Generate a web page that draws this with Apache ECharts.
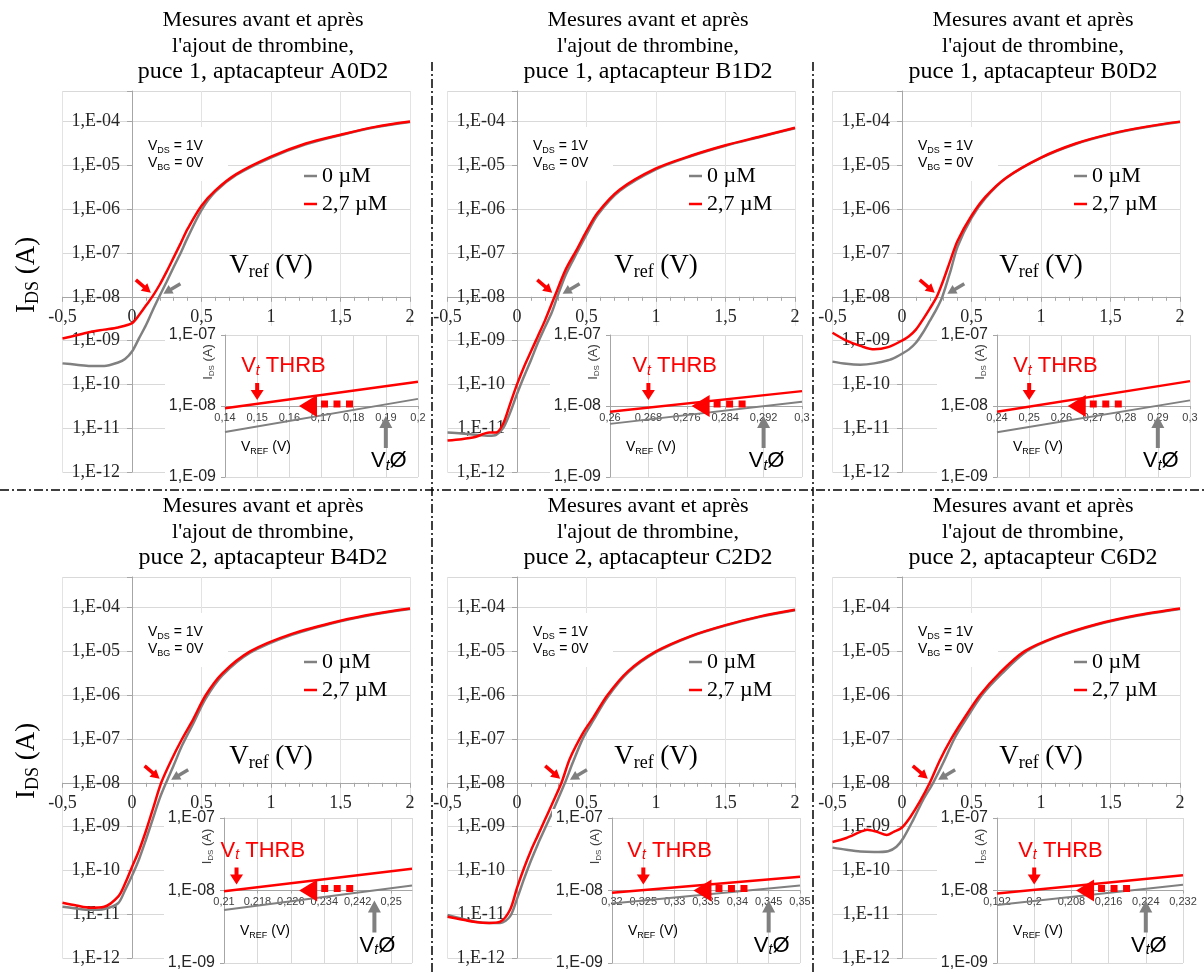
<!DOCTYPE html>
<html lang="fr">
<head>
<meta charset="utf-8">
<title>I_DS(V_ref) avant / après thrombine</title>
<script src="https://cdn.jsdelivr.net/npm/echarts@6.0.0/dist/echarts.min.js"></script>
<style>
html,body{margin:0;padding:0;background:#ffffff;}
#chart{width:1204px;height:974px;}
</style>
</head>
<body>
<div id="chart"></div>
<script>
// ================= DATA =================
const titleLine1 = "Mesures avant et après";
const titleLine2 = "l'ajout de thrombine,";
const panelLabels = ["puce 1, aptacapteur A0D2", "puce 1, aptacapteur B1D2", "puce 1, aptacapteur B0D2",
                     "puce 2, aptacapteur B4D2", "puce 2, aptacapteur C2D2", "puce 2, aptacapteur C6D2"];
const seriesNames = ["0 µM", "2,7 µM"];

// Panel 1 : A0D2  (V_ref in V, I_DS in A)
const a0d2_v0  = [-0.5,-0.4,-0.3,-0.2,-0.1,-0.05,0,0.05,0.1,0.15,0.2,0.25,0.3,0.35,0.4,0.5,0.6,0.75,1.0,1.25,1.5,1.75,2.0];
const a0d2_i0  = [3.02e-10,2.82e-10,2.63e-10,2.63e-10,3.16e-10,3.80e-10,5.62e-10,1.12e-9,2.24e-9,5.01e-9,1.07e-8,2.24e-8,4.79e-8,1.0e-7,2.24e-7,9.55e-7,2.51e-6,6.03e-6,1.51e-5,3.02e-5,4.90e-5,7.41e-5,9.77e-5];
const a0d2_v27 = [-0.5,-0.4,-0.3,-0.2,-0.1,0,0.05,0.1,0.15,0.2,0.25,0.3,0.35,0.4,0.5,0.6,0.75,1.0,1.25,1.5,1.75,2.0];
const a0d2_i27 = [1.12e-9,1.32e-9,1.58e-9,1.78e-9,2.0e-9,2.51e-9,3.80e-9,6.31e-9,1.05e-8,1.91e-8,3.80e-8,7.94e-8,1.66e-7,3.55e-7,1.20e-6,2.69e-6,6.31e-6,1.58e-5,3.16e-5,5.01e-5,7.59e-5,1.0e-4];

// Panel 2 : B1D2
const b1d2_v0  = [-0.5,-0.4,-0.3,-0.2,-0.15,-0.1,-0.05,0,0.05,0.1,0.15,0.2,0.25,0.29,0.35,0.43,0.5,0.58,0.74,1.0,1.25,1.5,1.75,2.0];
const b1d2_i0  = [7.94e-12,7.59e-12,7.08e-12,6.76e-12,7.08e-12,1.0e-11,2.24e-11,6.03e-11,1.51e-10,3.55e-10,8.91e-10,2.0e-9,4.37e-9,1.0e-8,3.16e-8,1.0e-7,2.63e-7,7.41e-7,2.63e-6,8.13e-6,1.62e-5,2.82e-5,4.47e-5,7.08e-5];
const b1d2_v27 = [-0.5,-0.4,-0.3,-0.2,-0.15,-0.1,-0.05,0,0.05,0.1,0.15,0.2,0.27,0.35,0.43,0.5,0.58,0.74,1.0,1.25,1.5,1.75,2.0];
const b1d2_i27 = [5.25e-12,5.62e-12,6.31e-12,7.94e-12,7.94e-12,1.26e-11,3.55e-11,1.0e-10,2.51e-10,5.62e-10,1.26e-9,2.82e-9,1.0e-8,4.17e-8,1.20e-7,3.16e-7,8.32e-7,2.82e-6,8.51e-6,1.66e-5,2.88e-5,4.57e-5,7.24e-5];

// Panel 3 : B0D2
const b0d2_v0  = [-0.5,-0.4,-0.3,-0.2,-0.1,-0.04,0,0.05,0.1,0.15,0.2,0.25,0.29,0.35,0.4,0.5,0.6,0.75,1.0,1.25,1.5,1.75,2.0];
const b0d2_i0  = [3.31e-10,2.95e-10,2.82e-10,3.02e-10,3.55e-10,4.27e-10,5.01e-10,6.31e-10,8.91e-10,1.51e-9,2.82e-9,5.37e-9,1.0e-8,3.98e-8,1.41e-7,6.31e-7,1.78e-6,5.13e-6,1.48e-5,3.09e-5,5.13e-5,7.41e-5,9.77e-5];
const b0d2_v27 = [-0.5,-0.4,-0.3,-0.2,-0.1,0,0.05,0.1,0.15,0.2,0.25,0.3,0.35,0.4,0.5,0.6,0.75,1.0,1.25,1.5,1.75,2.0];
const b0d2_i27 = [1.51e-9,1.0e-9,7.59e-10,6.31e-10,7.08e-10,1.0e-9,1.26e-9,1.78e-9,3.02e-9,5.37e-9,1.0e-8,2.51e-8,7.08e-8,1.91e-7,7.08e-7,1.91e-6,5.25e-6,1.51e-5,3.16e-5,5.25e-5,7.59e-5,1.0e-4];

// Panel 4 : B4D2
const b4d2_v0  = [-0.5,-0.4,-0.3,-0.2,-0.1,-0.05,0,0.05,0.1,0.15,0.2,0.245,0.3,0.36,0.44,0.53,0.65,0.85,1.15,1.5,1.75,2.0];
const b4d2_i0  = [1.48e-11,1.35e-11,1.26e-11,1.32e-11,1.78e-11,3.55e-11,7.59e-11,1.78e-10,5.01e-10,1.51e-9,4.47e-9,1.0e-8,2.51e-8,7.08e-8,2.24e-7,8.32e-7,2.82e-6,9.33e-6,2.40e-5,4.90e-5,7.08e-5,9.33e-5];
const b4d2_v27 = [-0.5,-0.4,-0.3,-0.2,-0.1,-0.05,0,0.05,0.1,0.15,0.21,0.28,0.36,0.44,0.53,0.65,0.85,1.15,1.5,1.75,2.0];
const b4d2_i27 = [1.82e-11,1.58e-11,1.41e-11,1.48e-11,2.51e-11,5.01e-11,1.20e-10,2.82e-10,7.94e-10,2.51e-9,1.0e-8,3.16e-8,1.0e-7,2.82e-7,1.0e-6,3.16e-6,1.0e-5,2.51e-5,5.01e-5,7.24e-5,9.55e-5];

// Panel 5 : C2D2
const c2d2_v0  = [-0.5,-0.4,-0.3,-0.2,-0.12,-0.05,0,0.05,0.1,0.15,0.2,0.25,0.345,0.4,0.475,0.55,0.65,0.8,1.0,1.25,1.5,1.75,2.0];
const c2d2_i0  = [9.55e-12,7.94e-12,6.76e-12,6.31e-12,6.31e-12,8.91e-12,2.24e-11,6.31e-11,1.66e-10,3.98e-10,8.91e-10,2.0e-9,1.0e-8,2.82e-8,1.05e-7,2.69e-7,8.91e-7,3.31e-6,9.55e-6,2.19e-5,3.89e-5,6.17e-5,8.71e-5];
const c2d2_v27 = [-0.5,-0.4,-0.3,-0.2,-0.12,-0.05,0,0.05,0.1,0.15,0.2,0.25,0.32,0.38,0.475,0.55,0.65,0.8,1.0,1.25,1.5,1.75,2.0];
const c2d2_i27 = [8.71e-12,7.59e-12,6.61e-12,6.31e-12,6.76e-12,1.26e-11,3.98e-11,1.12e-10,2.82e-10,6.31e-10,1.41e-9,3.16e-9,1.0e-8,3.55e-8,1.38e-7,3.16e-7,1.0e-6,3.55e-6,1.0e-5,2.24e-5,3.98e-5,6.31e-5,8.91e-5];

// Panel 6 : C6D2
const c6d2_v0  = [-0.5,-0.4,-0.3,-0.2,-0.1,-0.04,0.01,0.08,0.15,0.224,0.3,0.38,0.46,0.58,0.72,0.9,1.1,1.4,1.7,2.0];
const c6d2_i0  = [3.31e-10,2.95e-10,2.69e-10,2.63e-10,2.75e-10,3.47e-10,5.50e-10,1.41e-9,3.98e-9,1.0e-8,3.02e-8,1.07e-7,2.82e-7,1.05e-6,3.16e-6,1.02e-5,2.04e-5,4.07e-5,6.61e-5,9.33e-5];
const c6d2_v27 = [-0.5,-0.4,-0.3,-0.25,-0.18,-0.11,-0.06,0,0.06,0.13,0.2,0.27,0.35,0.44,0.56,0.7,0.88,1.1,1.4,1.7,2.0];
const c6d2_i27 = [4.47e-10,5.50e-10,7.59e-10,8.51e-10,7.59e-10,6.46e-10,7.59e-10,9.55e-10,1.66e-9,3.80e-9,1.0e-8,3.16e-8,9.55e-8,2.75e-7,1.0e-6,3.16e-6,1.0e-5,2.09e-5,4.17e-5,6.76e-5,9.55e-5];

// Insets (zoom around I_DS = 1e-8 A)
const insetV    = [[0.14,0.2],[0.26,0.3],[0.24,0.3],[0.21,0.255],[0.32,0.35],[0.192,0.232]];
const insetI0   = [[4.3e-9,1.26e-8],[5.6e-9,1.15e-8],[4.27e-9,1.2e-8],[5.4e-9,1.17e-8],[6.6e-9,1.17e-8],[6.3e-9,1.2e-8]];
const insetI27  = [[9.3e-9,2.2e-8],[8.3e-9,1.62e-8],[8.3e-9,2.24e-8],[9.8e-9,2.0e-8],[9.3e-9,1.55e-8],[9.1e-9,1.62e-8]];
const insetTickMin  = [0.14, 0.26, 0.24, 0.21, 0.32, 0.192];
const insetTickMax  = [0.2, 0.3, 0.3, 0.255, 0.35, 0.232];
const insetTickStep = [0.01, 0.008, 0.01, 0.008, 0.005, 0.008];

// Threshold voltages (V) read on the insets
const vtThrb   = [0.15, 0.268, 0.25, 0.213, 0.325, 0.2];     // after thrombin (2,7 µM)
const vtZero   = [0.19, 0.292, 0.29, 0.246, 0.345, 0.224];   // before (0 µM)
const shiftTip = [0.163, 0.277, 0.262, 0.228, 0.333, 0.209]; // tip of the shift arrow

const mainV0  = [a0d2_v0, b1d2_v0, b0d2_v0, b4d2_v0, c2d2_v0, c6d2_v0];
const mainI0  = [a0d2_i0, b1d2_i0, b0d2_i0, b4d2_i0, c2d2_i0, c6d2_i0];
const mainV27 = [a0d2_v27, b1d2_v27, b0d2_v27, b4d2_v27, c2d2_v27, c6d2_v27];
const mainI27 = [a0d2_i27, b1d2_i27, b0d2_i27, b4d2_i27, c2d2_i27, c6d2_i27];

// ================= LAYOUT / STYLE =================
const SERIF = 'Liberation Serif';
const SANS = 'Liberation Sans';
const RED = '#ff0000', GRAY = '#808080';
const colZero = [132, 517, 902];
const rowOff = [0, 486];
const MAIN_MIN = 1e-12, MAIN_MAX = 5e-4;
const MAIN_TOP = 91, MAIN_H = 381, MAIN_W = 347.5, MAIN_SHIFT = 69.5;
const insetXpx = [[225,418],[610,802],[997,1190],[224,412],[612,800],[997,1183]];
const insetYpx = [[335,477],[818,963]];
const vrefBase = [-21, -16];

const zip = (a, b) => a.map((v, i) => [v, b[i]]);
const comma = v => String(+(+v).toFixed(4)).replace('.', ',');
const expLabel = v => {
  const l = Math.log10(v), e = Math.round(l);
  if (Math.abs(l - e) > 1e-6) return '';
  const n = -e;
  return '1,E-' + (n < 10 ? '0' + n : n);
};
function minorMarks(minExp, maxVal) {
  const out = [];
  for (let e = minExp; e < 0; e++) {
    for (let m = 2; m <= 9; m++) {
      const v = m * Math.pow(10, e);
      if (v >= maxVal * 0.999) return out;
      out.push({ yAxis: v });
    }
  }
  return out;
}

const chart = echarts.init(document.getElementById('chart'), null, { renderer: 'canvas' });

const grids = [], xAxes = [], yAxes = [], series = [], legends = [], titles = [];
const decades = Math.log10(MAIN_MAX) - Math.log10(MAIN_MIN);
const y8off = MAIN_H * (Math.log10(1e-8) - Math.log10(MAIN_MIN)) / decades;

for (let k = 0; k < 6; k++) {
  const c = k % 3, r = Math.floor(k / 3), zx = colZero[c], ro = rowOff[r];
  // ---- main plot
  grids.push({ left: zx - MAIN_SHIFT, top: MAIN_TOP + ro, width: MAIN_W, height: MAIN_H, containLabel: false, outerBoundsMode: 'none', show: false });
  xAxes.push({
    type: 'value', gridIndex: 2 * k, min: -0.5, max: 2, interval: 0.5, position: 'bottom', offset: -y8off, z: 0,
    axisLine: { show: true, onZero: false, lineStyle: { color: '#a6a6a6', width: 1 } },
    axisTick: { show: true, length: 5, lineStyle: { color: '#a6a6a6' } },
    minorTick: { show: true, splitNumber: 5, length: 4, lineStyle: { color: '#a6a6a6' } },
    axisLabel: { show: true, margin: 11, fontFamily: SERIF, fontSize: 18, color: '#262626', formatter: comma },
    splitLine: { show: true, lineStyle: { color: '#e3e3e3', width: 1 } },
    minorSplitLine: { show: false }
  });
  yAxes.push({
    type: 'log', logBase: 10, gridIndex: 2 * k, min: MAIN_MIN, max: MAIN_MAX, splitNumber: 10, position: 'left', offset: -MAIN_SHIFT, z: 0,
    axisLine: { show: true, onZero: false, lineStyle: { color: '#a6a6a6', width: 1 } },
    axisTick: { show: true, length: 5, lineStyle: { color: '#a6a6a6' } },
    axisLabel: { show: true, margin: 12, fontFamily: SERIF, fontSize: 18, color: '#262626', formatter: expLabel },
    splitLine: { show: true, lineStyle: { color: '#d9d9d9', width: 1 } }
  });
  // ---- inset
  const [iL, iR] = insetXpx[k], [iT, iB] = insetYpx[r];
  grids.push({ left: iL, top: iT, width: iR - iL, height: iB - iT, containLabel: false, outerBoundsMode: 'none', show: false });
  xAxes.push({
    type: 'value', gridIndex: 2 * k + 1, min: insetTickMin[k], max: insetTickMax[k], interval: insetTickStep[k],
    position: 'bottom', offset: -(iB - iT) / 2, z: 6,
    axisLine: { show: true, onZero: false, lineStyle: { color: '#a6a6a6', width: 1 } },
    axisTick: { show: true, length: 3, lineStyle: { color: '#a6a6a6' } },
    axisLabel: { show: true, margin: 6, fontFamily: SANS, fontSize: 11, color: '#404040', formatter: comma,
                 showMinLabel: true, showMaxLabel: k !== 3 },
    splitLine: { show: true, lineStyle: { color: '#d9d9d9', width: 1 } }
  });
  yAxes.push({
    type: 'log', logBase: 10, gridIndex: 2 * k + 1, min: 1e-9, max: 1e-7, splitNumber: 10, position: 'left', z: 6,
    axisLine: { show: true, onZero: false, lineStyle: { color: '#a6a6a6', width: 1 } },
    axisTick: { show: true, length: 4, lineStyle: { color: '#a6a6a6' } },
    axisLabel: { show: true, margin: 9, fontFamily: SANS, fontSize: 16, color: '#262626', formatter: expLabel },
    splitLine: { show: true, lineStyle: { color: '#d9d9d9', width: 1 } }
  });

  const mlCommon = { silent: true, symbol: ['none', 'none'], label: { show: false }, emphasis: { disabled: true }, animation: false };
  series.push({
    type: 'line', name: seriesNames[0], xAxisIndex: 2 * k, yAxisIndex: 2 * k, data: zip(mainV0[k], mainI0[k]),
    smooth: 0.3, symbol: 'none', color: GRAY, itemStyle: { color: GRAY },
    lineStyle: { color: GRAY, width: 2.5 }, z: 2, silent: true,
    markLine: Object.assign({ z: 1, lineStyle: { color: '#e9e9e9', width: 1, type: 'solid' }, data: minorMarks(-12, MAIN_MAX) }, mlCommon)
  });
  series.push({
    type: 'line', name: seriesNames[1], xAxisIndex: 2 * k, yAxisIndex: 2 * k, data: zip(mainV27[k], mainI27[k]),
    smooth: 0.3, symbol: 'none', color: RED, itemStyle: { color: RED },
    lineStyle: { color: RED, width: 2.5 }, z: 3, silent: true
  });
  series.push({
    type: 'line', name: seriesNames[0], xAxisIndex: 2 * k + 1, yAxisIndex: 2 * k + 1, data: zip(insetV[k], insetI0[k]),
    symbol: 'none', color: GRAY, itemStyle: { color: GRAY }, lineStyle: { color: GRAY, width: 2 }, z: 7, silent: true,
    markLine: Object.assign({ z: 6, lineStyle: { color: '#e4e4e4', width: 1, type: 'solid' }, data: minorMarks(-9, 1e-7) }, mlCommon)
  });
  series.push({
    type: 'line', name: seriesNames[1], xAxisIndex: 2 * k + 1, yAxisIndex: 2 * k + 1, data: zip(insetV[k], insetI27[k]),
    symbol: 'none', color: RED, itemStyle: { color: RED }, lineStyle: { color: RED, width: 2.5 }, z: 8, silent: true
  });

  legends.push({
    orient: 'vertical', left: zx + 172, top: ro + 164, itemWidth: 13, itemHeight: 2.5, itemGap: 4, icon: 'rect',
    selectedMode: false, padding: 0,
    textStyle: { fontFamily: SERIF, fontSize: 22, color: '#000', lineHeight: 24 },
    data: seriesNames.map(n => ({ name: n }))
  });
  titles.push({
    text: '{a|' + titleLine1 + '}\n{a|' + titleLine2 + '}\n{b|' + panelLabels[k] + '}',
    left: zx + 131, top: ro + 7, textAlign: 'center', padding: 0,
    textStyle: {
      fontFamily: SERIF, fontSize: 22, fontWeight: 'normal', color: '#000', lineHeight: 26,
      rich: {
        a: { fontFamily: SERIF, fontSize: 22, color: '#000', lineHeight: 26 },
        b: { fontFamily: SERIF, fontSize: 24, color: '#000', lineHeight: 26 }
      }
    }
  });
}

chart.setOption({
  animation: false,
  backgroundColor: '#ffffff',
  title: titles,
  legend: legends,
  grid: grids,
  xAxis: xAxes,
  yAxis: yAxes,
  tooltip: { show: false },
  series: series
});

// ================= ANNOTATIONS =================
function arrowPts(x1, y1, x2, y2, hl, hw, sw) {
  const dx = x2 - x1, dy = y2 - y1, L = Math.hypot(dx, dy);
  const ux = dx / L, uy = dy / L, nx = -uy, ny = ux;
  const bx = x2 - ux * hl, by = y2 - uy * hl;
  return [[x1 + nx * sw / 2, y1 + ny * sw / 2], [bx + nx * sw / 2, by + ny * sw / 2], [bx + nx * hw / 2, by + ny * hw / 2],
          [x2, y2], [bx - nx * hw / 2, by - ny * hw / 2], [bx - nx * sw / 2, by - ny * sw / 2], [x1 - nx * sw / 2, y1 - ny * sw / 2]];
}
function subRich(a, s, b, o) {
  return {
    text: '{m|' + a + '}{s|' + s + '}{m|' + b + '}',
    rich: {
      m: { fontSize: o.size, fontFamily: o.family, fill: o.color, lineHeight: o.lh, verticalAlign: 'middle' },
      s: { fontSize: o.sub, fontFamily: o.family, fill: o.color, lineHeight: o.slh, verticalAlign: 'bottom', fontStyle: o.italic ? 'italic' : 'normal' }
    }
  };
}
function textEl(x, y, rich, align, rot) {
  const st = Object.assign({ align: align, verticalAlign: rot ? 'middle' : 'top' }, rich);
  const el = { type: 'text', z: 12, x: x, y: y, style: st, silent: true };
  if (rot) el.rotation = Math.PI / 2;
  return el;
}

const G = [];
const sep = { stroke: '#000', lineWidth: 1.5, lineDash: [9, 3, 2, 3] };
G.push({ type: 'line', z: 12, silent: true, shape: { x1: 432, y1: 62, x2: 432, y2: 974 }, style: sep });
G.push({ type: 'line', z: 12, silent: true, shape: { x1: 813, y1: 62, x2: 813, y2: 974 }, style: sep });
G.push({ type: 'line', z: 12, silent: true, shape: { x1: 0, y1: 490, x2: 1204, y2: 490 }, style: sep });

for (let k = 0; k < 6; k++) {
  const c = k % 3, r = Math.floor(k / 3), zx = colZero[c], ro = rowOff[r];
  const [iL, iR] = insetXpx[k], [iT, iB] = insetYpx[r];

  // white background of the inset (covers the main curves as in the original)
  G.push({ type: 'rect', z: 5, silent: true, shape: { x: iL - 60, y: iT - 9, width: iR - iL + 62, height: iB - iT + 14 }, style: { fill: '#ffffff' } });
  // VDS / VBG box (above gridlines, below curves)
  G.push({ type: 'rect', z: 1.5, silent: true, shape: { x: zx + 1, y: ro + 127, width: 95, height: 54 }, style: { fill: '#ffffff' } });
  const smallO = { size: 14, sub: 9, family: SANS, color: '#000', lh: 18, slh: 10 };
  G.push(textEl(zx + 16, ro + 137, subRich('V', 'DS', ' = 1V', smallO), 'left'));
  G.push(textEl(zx + 16, ro + 154, subRich('V', 'BG', ' = 0V', smallO), 'left'));

  // main-plot labels
  const pV = chart.convertToPixel({ gridIndex: 2 * k }, [1, 1e-8]);
  G.push(textEl(pV[0], pV[1] + vrefBase[r] - 24.5, subRich('V', 'ref', ' (V)', { size: 27, sub: 18, family: SERIF, color: '#000', lh: 30, slh: 12 }), 'center'));
  if (c === 0) {
    G.push(textEl(27, pV[1] - 22, subRich('I', 'DS', ' (A)', { size: 27, sub: 18, family: SERIF, color: '#000', lh: 30, slh: 12 }), 'center', true));
  }
  // main-plot arrows toward threshold points
  const pr = chart.convertToPixel({ gridIndex: 2 * k }, [vtThrb[k], 1e-8]);
  const pg = chart.convertToPixel({ gridIndex: 2 * k }, [vtZero[k], 1e-8]);
  const rt = [pr[0] - 2, pr[1] - 4], gt = [pg[0] + 5, pg[1] - 3];
  G.push({ type: 'polygon', z: 12, silent: true, shape: { points: arrowPts(rt[0] - 15, rt[1] - 13, rt[0], rt[1], 9, 10, 3.5) }, style: { fill: RED } });
  G.push({ type: 'polygon', z: 12, silent: true, shape: { points: arrowPts(gt[0] + 17, gt[1] - 10, gt[0], gt[1], 9, 10, 3.5) }, style: { fill: GRAY } });

  // inset annotations
  const ir = chart.convertToPixel({ gridIndex: 2 * k + 1 }, [vtThrb[k], 1e-8]);
  const ig = chart.convertToPixel({ gridIndex: 2 * k + 1 }, [vtZero[k], 1e-8]);
  const it = chart.convertToPixel({ gridIndex: 2 * k + 1 }, [shiftTip[k], 1e-8]);
  const y8 = ir[1];
  G.push({ type: 'polygon', z: 12, silent: true, shape: { points: arrowPts(ir[0], y8 - 23, ir[0], y8 - 6, 10, 13, 4) }, style: { fill: RED } });
  G.push({ type: 'polygon', z: 12, silent: true, shape: { points: arrowPts(ig[0], y8 + 42, ig[0], y8 + 10, 12, 13, 4) }, style: { fill: GRAY } });
  G.push({ type: 'polygon', z: 12, silent: true, shape: { points: [[it[0], y8], [it[0] + 18, y8 - 11], [it[0] + 18, y8 + 11]] }, style: { fill: RED } });
  for (let j = 0; j < 3; j++) {
    G.push({ type: 'rect', z: 12, silent: true, shape: { x: it[0] + 22 + j * 12.5, y: y8 - 5.5, width: 7, height: 7 }, style: { fill: RED } });
  }
  const bigO = (col) => ({ size: 22, sub: 14, family: SANS, color: col, lh: 24, slh: 8, italic: true });
  G.push(textEl(ir[0] - 16, y8 - 52, subRich('V', 't', ' THRB', bigO(RED)), 'left'));
  G.push(textEl(ig[0] + 3, y8 + 43, subRich('V', 't', 'Ø', bigO('#000')), 'center'));
  G.push(textEl(iL + 16, y8 + 32, subRich('V', 'REF', ' (V)', { size: 14, sub: 9, family: SANS, color: '#000', lh: 18, slh: 10 }), 'left'));
  G.push(textEl(iL - 17, y8 - 44, subRich('I', 'DS', ' (A)', { size: 13, sub: 8, family: SANS, color: '#404040', lh: 16, slh: 9 }), 'center', true));
}

chart.setOption({ graphic: { elements: G } });
</script>
</body>
</html>
